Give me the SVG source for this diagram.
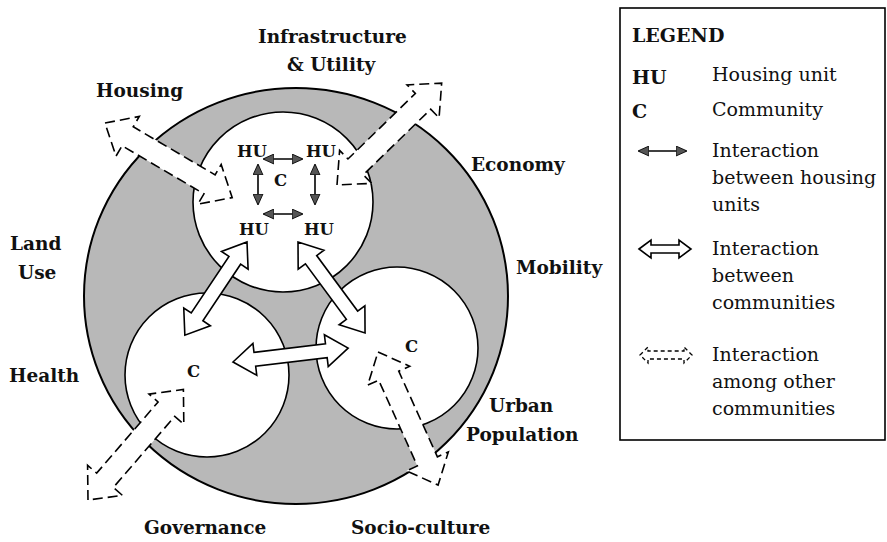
<svg xmlns="http://www.w3.org/2000/svg" xmlns:xlink="http://www.w3.org/1999/xlink" width="887" height="542" viewBox="0 0 887 542">
<style>
text{font-family:"DejaVu Serif","Liberation Serif","Noto Serif",serif;fill:#111}
.lbl{font-weight:bold;font-size:18.5px}
.hu{font-weight:bold;font-size:16.5px}
.leg{font-size:19px}
.legb{font-weight:bold;font-size:19px}
.ring{fill:#b8b8b8;stroke:#000;stroke-width:2}
.comm{fill:#fff;stroke:#000;stroke-width:1.6}
.dash{fill:#fff;stroke:#000;stroke-width:1.6;stroke-dasharray:10 5}
.solid{fill:#fff;stroke:#000;stroke-width:1.6}
.small{stroke:#000;stroke-width:1.6;fill:none;marker-start:url(#hd);marker-end:url(#hd)}
</style>
<defs>
<marker id="hd" viewBox="0 0 10 10" refX="9" refY="5" markerWidth="11" markerHeight="11" markerUnits="userSpaceOnUse" orient="auto-start-reverse">
<path d="M0,0.5 L10,5 L0,9.5 z" fill="#555" stroke="#000" stroke-width="0.8"/>
</marker>
<polygon id="darrow" points="0,0 26,-23 26,-11 120,-11 120,-23 146,0 120,23 120,11 26,11 26,23"/>
</defs>

<g id="urban-system">
<ellipse class="ring" cx="296" cy="296" rx="212" ry="208"/>
</g>
<g id="community-top">
<circle class="comm" cx="283" cy="202" r="90"/>
</g>
<g id="community-left">
<circle class="comm" cx="207" cy="375" r="82"/>
</g>
<g id="community-right">
<circle class="comm" cx="397" cy="348" r="81"/>
</g>

<g id="connectors">
<use xlink:href="#darrow" class="dash" transform="translate(105,123) rotate(30.4) scale(1.01,1)"/>
<use xlink:href="#darrow" class="dash" transform="translate(337,185) rotate(-44.2)"/>
<use xlink:href="#darrow" class="dash" transform="translate(88,500) rotate(-49.2)"/>
<use xlink:href="#darrow" class="dash" transform="translate(378,352) rotate(65.7)"/>
<polygon class="solid" transform="translate(247,242) rotate(123.7)" points="0,0 22,-16 22,-7 90,-7 90,-16 112,0 90,16 90,7 22,7 22,16"/>
<polygon class="solid" transform="translate(298,242) rotate(53.6)" points="0,0 22,-16 22,-7 91,-7 91,-16 113,0 91,16 91,7 22,7 22,16"/>
<polygon class="solid" transform="translate(233,362) rotate(-6.9)" points="0,0 22,-16 22,-7 94,-7 94,-16 116,0 94,16 94,7 22,7 22,16"/>
<line class="small" x1="264" y1="159" x2="302" y2="159"/>
<line class="small" x1="264" y1="214" x2="302" y2="214"/>
<line class="small" x1="258" y1="165" x2="258" y2="204"/>
<line class="small" x1="315" y1="165" x2="315" y2="204"/>
</g>

<g id="unit-labels">
<text class="hu" x="237" y="157">HU</text>
<text class="hu" x="306" y="157">HU</text>
<text class="hu" x="274" y="186">C</text>
<text class="hu" x="239" y="235">HU</text>
<text class="hu" x="304" y="235">HU</text>
<text class="hu" x="187" y="377">C</text>
<text class="hu" x="405" y="352">C</text>
</g>

<g id="domain-labels">
<text class="lbl" x="96" y="97">Housing</text>
<text class="lbl" x="258" y="43">Infrastructure</text>
<text class="lbl" x="287" y="71">&amp; Utility</text>
<text class="lbl" x="471" y="171">Economy</text>
<text class="lbl" x="516" y="274">Mobility</text>
<text class="lbl" x="10" y="250">Land</text>
<text class="lbl" x="18" y="279">Use</text>
<text class="lbl" x="9" y="382">Health</text>
<text class="lbl" x="489" y="412">Urban</text>
<text class="lbl" x="466" y="441">Population</text>
<text class="lbl" x="144" y="534">Governance</text>
<text class="lbl" x="351" y="534">Socio-culture</text>
</g>

<g id="legend">
<rect x="620" y="8" width="265" height="432" fill="#fff" stroke="#000" stroke-width="1.6"/>
<text class="legb" x="632" y="42">LEGEND</text>
<text class="legb" x="632" y="84">HU</text>
<text class="leg" x="712" y="81">Housing unit</text>
<text class="legb" x="632" y="118">C</text>
<text class="leg" x="712" y="116">Community</text>
<line class="small" x1="639" y1="151" x2="686" y2="151"/>
<text class="leg" x="712" y="157">Interaction</text>
<text class="leg" x="712" y="184">between housing</text>
<text class="leg" x="712" y="211">units</text>
<polygon class="solid" transform="translate(639,249)" points="0,0 12,-9 12,-4 40,-4 40,-9 52,0 40,9 40,4 12,4 12,9"/>
<text class="leg" x="712" y="255">Interaction</text>
<text class="leg" x="712" y="282">between</text>
<text class="leg" x="712" y="309">communities</text>
<polygon fill="#fff" stroke="#000" stroke-width="1.3" stroke-dasharray="4 3" transform="translate(640,355)" points="0,0 8,-8 8,-4 44,-4 44,-8 52,0 44,8 44,4 8,4 8,8"/>
<text class="leg" x="712" y="361">Interaction</text>
<text class="leg" x="712" y="388">among other</text>
<text class="leg" x="712" y="415">communities</text>
</g>
</svg>
